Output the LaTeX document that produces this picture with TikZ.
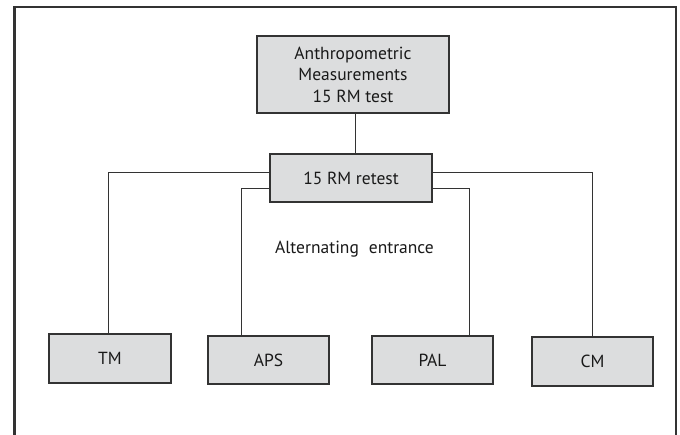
\documentclass[tikz,border=0pt]{standalone}
\usepackage{fontspec}
\setmainfont{PT Sans}
\definecolor{boxfill}{HTML}{DCDDDE}
\definecolor{edge}{HTML}{333333}
\begin{document}
\begin{tikzpicture}[x=1pt,y=-1pt,
  box/.style={draw=edge,line width=1.3pt,fill=boxfill,rectangle,inner sep=0pt,
    font=\fontsize{17.5}{21.5}\selectfont,align=center,text=black!90},
  link/.style={draw=black!80,line width=0.9pt}]
\useasboundingbox (0,0) rectangle (680,435);
\fill[white] (0,0) rectangle (680,435);
\draw[edge,line width=2.5pt] (14.5,435) -- (14.5,7) -- (676,7) -- (676,435);
\node[box,minimum width=192pt,minimum height=77pt] (top) at (353,74.5)
  {Anthropometric\\Measurements\\15 RM test};
\node[box,minimum width=162pt,minimum height=48pt] (retest) at (351,178) {15 RM retest};
\node[box,minimum width=122pt,minimum height=49pt] (tm) at (110,358.5) {TM};
\node[box,minimum width=121pt,minimum height=48pt] (aps) at (268.5,360) {APS};
\node[box,minimum width=121pt,minimum height=48pt] (pal) at (432.5,360) {PAL};
\node[box,minimum width=121pt,minimum height=49pt] (cm) at (592.5,361.5) {CM};
\node[font=\fontsize{17.5}{20}\selectfont,text=black!90] (alt) at (354.5,249) {Alternating\hspace{10pt}entrance};
\draw[link] ([xshift=2pt]top.south) -- ([xshift=2pt]top.south |- retest.north);
\draw[link] ([yshift=6pt]retest.west) -| ([xshift=-2pt]tm.north);
\draw[link] ([yshift=-10pt]retest.west) -| ([xshift=-27.5pt]aps.north);
\draw[link] ([yshift=-10pt]retest.east) -| ([xshift=36.5pt]pal.north);
\draw[link] ([yshift=6pt]retest.east) -| (cm.north);
\end{tikzpicture}
\end{document}
